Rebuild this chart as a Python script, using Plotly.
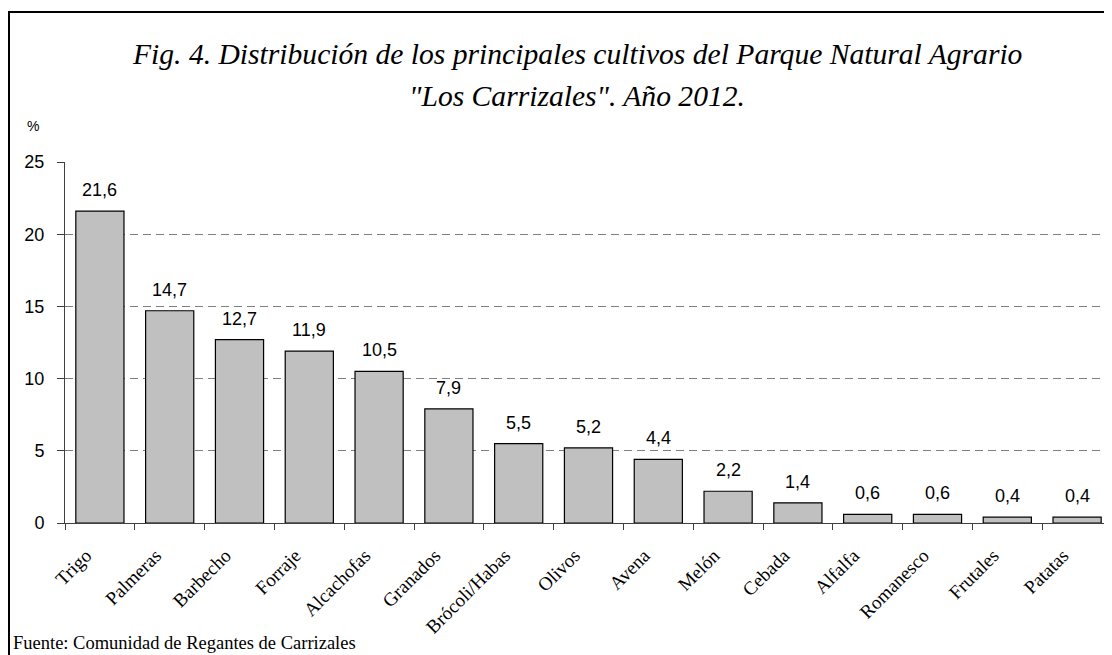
import plotly.graph_objects as go

categories = ["Trigo", "Palmeras", "Barbecho", "Forraje", "Alcachofas", "Granados",
              "Brócoli/Habas", "Olivos", "Avena", "Melón", "Cebada", "Alfalfa",
              "Romanesco", "Frutales", "Patatas"]
values = [21.6, 14.7, 12.7, 11.9, 10.5, 7.9, 5.5, 5.2, 4.4, 2.2, 1.4, 0.6, 0.6, 0.4, 0.4]
y_ticks = [0, 5, 10, 15, 20, 25]

OFF = 8  # page body margin
W, H = 1112 - OFF, 655 - OFF
L, R, T, B = 65 - OFF, 0, 162 - OFF, 655 - 523
pw = W - L - R
ph = H - T - B


def fx(px):
    return (px - OFF - L) / pw


def fy(py):
    return (H - B - (py - OFF)) / ph


SERIF = "Liberation Serif, Times New Roman, serif"
SANS = "Liberation Sans, Arial, sans-serif"

fig = go.Figure()
fig.add_trace(go.Bar(
    x=categories, y=values,
    marker=dict(color="#c0c0c0", line=dict(color="black", width=1.2)),
    hoverinfo="x+y",
))

for c, v in zip(categories, values):
    fig.add_annotation(x=c, y=v, text=f"{v:.1f}".replace(".", ","),
                       showarrow=False, yshift=21,
                       font=dict(family=SANS, size=18, color="black"))

fig.add_annotation(xref="paper", yref="paper", x=fx(33), y=fy(126), text="%",
                   showarrow=False, xanchor="center", yanchor="middle",
                   font=dict(family=SANS, size=14, color="black"))

fig.add_annotation(xref="paper", yref="paper", x=fx(577), y=fy(54),
                   text="<i>Fig. 4. Distribución de los principales cultivos del Parque Natural Agrario</i>",
                   showarrow=False, xanchor="center", yanchor="middle",
                   font=dict(family=SERIF, size=29.6, color="black"))
fig.add_annotation(xref="paper", yref="paper", x=fx(577), y=fy(96),
                   text="<i>\"Los Carrizales\". Año 2012.</i>",
                   showarrow=False, xanchor="center", yanchor="middle",
                   font=dict(family=SERIF, size=29.6, color="black"))

fig.add_annotation(xref="paper", yref="paper", x=fx(11), y=fy(643),
                   text="Fuente: Comunidad de Regantes de Carrizales",
                   showarrow=False, xanchor="left", yanchor="middle",
                   font=dict(family=SERIF, size=18.5, color="black"))

fig.add_shape(type="rect", xref="paper", yref="paper",
              x0=fx(9), x1=fx(1125),
              y0=fy(670), y1=fy(12),
              line=dict(color="black", width=2), fillcolor="rgba(0,0,0,0)", layer="above")

fig.update_layout(
    width=W, height=H,
    margin=dict(l=L, r=R, t=T, b=B),
    paper_bgcolor="white", plot_bgcolor="white",
    showlegend=False,
    bargap=0.31,
    xaxis=dict(
        type="category", tickangle=-45, tickson="boundaries",
        ticks="outside", ticklen=6, tickcolor="#404040",
        showline=True, linecolor="#404040", linewidth=1,
        showgrid=False,
        ticklabelstandoff=13, ticklabelshift=-14,
        tickfont=dict(family=SERIF, size=19, color="black"),
        range=[-0.5, len(categories) - 0.5],
    ),
    yaxis=dict(
        range=[0, 25], tickvals=y_ticks,
        ticks="outside", ticklen=7, tickcolor="#404040",
        showline=True, linecolor="#404040", linewidth=1,
        showgrid=True, gridcolor="#808080", griddash="8px,5px", gridwidth=1,
        zeroline=False, ticklabelstandoff=9,
        tickfont=dict(family=SANS, size=18, color="black"),
    ),
)

fig.write_html("out.html")
